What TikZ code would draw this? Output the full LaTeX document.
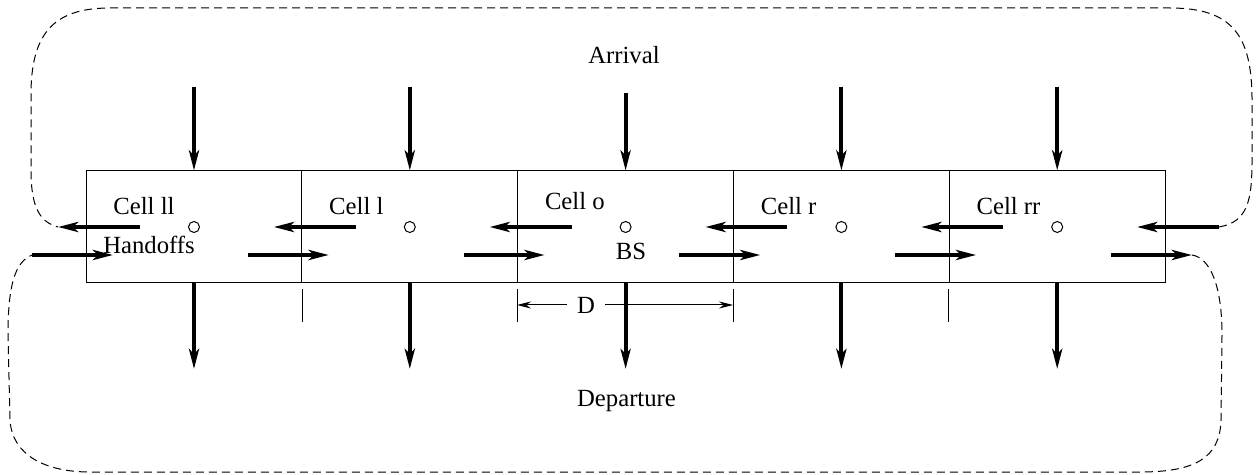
\documentclass[tikz,border=0pt]{standalone}
\usepackage{fontspec}
\setmainfont{Liberation Serif}
\usetikzlibrary{arrows.meta}
\begin{document}
\begin{tikzpicture}[x=0.5pt,y=-0.5pt,
  lbl/.style={font=\fontsize{12.35}{14}\selectfont, inner sep=0pt},
  cellbox/.style={draw, line width=0.5pt, minimum width=107.9pt, minimum height=56pt, inner sep=0pt},
  bs/.style={circle, draw, line width=0.5pt, minimum size=5.5pt, inner sep=0pt},
  flow/.style={line width=2pt, -{Stealth[length=10pt,width=5pt,inset=2.5pt]}},
  loop/.style={dash pattern=on 4pt off 2.5pt, line width=0.5pt},
  tickline/.style={line width=0.5pt},
  dim/.style={line width=0.5pt, {Stealth[length=7pt,width=3.5pt]}-{Stealth[length=7pt,width=3.5pt]}}]
\useasboundingbox (0,0) rectangle (1257,475);

% handoff arrow end points, one pair per cell boundary
\foreach \i in {0,...,5} {
  \pgfmathsetmacro{\c}{194+215.8*\i}
  \coordinate (hl\i s) at (\c-54,227);
  \coordinate (hl\i e) at (\c-136,227);
  \coordinate (hr\i s) at (\c-162,255);
  \coordinate (hr\i e) at (\c-81,255);
}

% wrap-around loops
\draw[loop] (hl5s) .. controls (1248,222) and (1252,200) .. (1252,160)
  -- (1252,100) .. controls (1252,35) and (1232,8) .. (1170,8)
  -- (110,8) .. controls (52,8) and (31,35) .. (31,95)
  -- (31,170) .. controls (31,208) and (40,222) .. (hl0e);
\draw[loop] (hr5e) .. controls (1210,258) and (1222,285) .. (1222,335)
  -- (1221,420) .. controls (1220,458) and (1195,472) .. (1140,472)
  -- (90,472) .. controls (45,472) and (12,455) .. (10,420)
  -- (8,335) .. controls (8,285) and (15,262) .. (hr0s);

% cells, base stations and labels
\foreach \i/\n/\b in {0/ll/215,1/l/215,2/o/210,3/r/215,4/rr/215} {
  \node[cellbox] (cell\n) at ({194+215.8*\i},227) {};
  \node[bs] (bs\n) at (cell\n.center) {};
  \node[lbl, anchor=base west] (lab\n) at ({113+215.8*\i},\b) {Cell \n};
  \coordinate (arr\n) at ({194+215.8*\i},87);
  \coordinate (dep\n) at ({194+215.8*\i},369);
}
\coordinate (arro) at (625.6,93);

\node[lbl, anchor=base] (handoffs) at (149,254) {Handoffs};
\node[lbl, anchor=base] (bslabel) at (631,260) {BS};
\node[lbl, anchor=base] (arrival) at (624,64) {Arrival};
\node[lbl, anchor=base] (departure) at (626.5,407) {Departure};

% cell size dimension
\foreach \x/\k in {302/1,517/2,733/3,948/4} {
  \coordinate (t\k a) at (\x,289);
  \coordinate (t\k b) at (\x,322);
  \draw[tickline] (t\k a) -- (t\k b);
}
\coordinate (dL) at (517,305);
\coordinate (dR) at (733,305);
\draw[dim] (dL) -- (dR);
\node[lbl, fill=white, inner xsep=5pt, inner ysep=1pt] (dlab) at (586,305) {D};

% arrivals and departures
\foreach \n in {ll,l,o,r,rr} {
  \draw[flow] (arr\n) -- (cell\n.north);
  \draw[flow] (cell\n.south) -- (dep\n);
}

% handoffs
\foreach \i in {0,...,5} {
  \draw[flow] (hl\i s) -- (hl\i e);
  \draw[flow] (hr\i s) -- (hr\i e);
}
\end{tikzpicture}
\end{document}
